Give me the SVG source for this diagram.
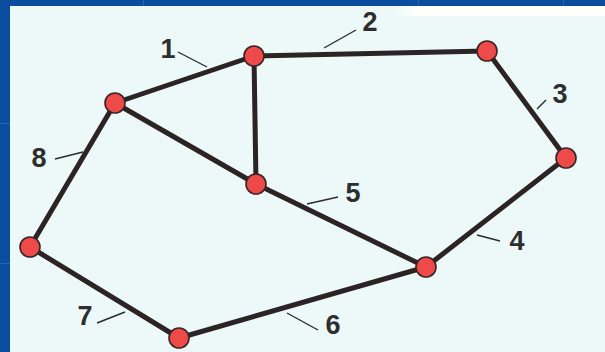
<svg xmlns="http://www.w3.org/2000/svg" width="605" height="352" viewBox="0 0 605 352">
<style>
.edge{stroke:#2b2324;stroke-width:5;stroke-linecap:round;fill:none}
.lead{stroke:#2b2b2b;stroke-width:1.4;fill:none}
.node{fill:#ee4a4a;stroke:#3a2526;stroke-width:1.6}
.lbl{font-family:"Liberation Sans",Arial,sans-serif;font-weight:bold;font-size:27px;fill:#2e2e2e;text-anchor:middle}
.tpl{stroke:#2a62ae;stroke-width:1}
</style>
<defs>
<linearGradient id="wg" x1="0" y1="0" x2="1" y2="0">
<stop offset="0" stop-color="#ffffff" stop-opacity="0"/>
<stop offset="0.1" stop-color="#ffffff" stop-opacity="1"/>
</linearGradient>
</defs>
<rect x="0" y="0" width="605" height="352" fill="#0a4d9f"/>
<line class="tpl" x1="0" y1="123.5" x2="10" y2="123.5"/>
<line class="tpl" x1="0" y1="263.5" x2="10" y2="263.5"/>
<line class="tpl" x1="143.5" y1="0" x2="143.5" y2="6"/>
<line class="tpl" x1="418.5" y1="0" x2="418.5" y2="6"/>
<line class="tpl" x1="563.5" y1="0" x2="563.5" y2="6"/>
<rect x="10" y="6" width="595" height="346" fill="#edf9f9"/>
<rect x="395" y="6" width="210" height="10" fill="url(#wg)"/>
<g id="connectors">
<line class="edge" x1="115" y1="103" x2="254" y2="56"/>
<line class="edge" x1="254" y1="56" x2="487" y2="51"/>
<line class="edge" x1="487" y1="51" x2="566" y2="158"/>
<line class="edge" x1="566" y1="158" x2="426" y2="267"/>
<line class="edge" x1="256" y1="184" x2="426" y2="267"/>
<line class="edge" x1="426" y1="267" x2="179" y2="338"/>
<line class="edge" x1="179" y1="338" x2="30" y2="247"/>
<line class="edge" x1="30" y1="247" x2="115" y2="103"/>
<line class="edge" x1="115" y1="103" x2="256" y2="184"/>
<line class="edge" x1="254" y1="56" x2="256" y2="184"/>
<line class="lead" x1="178" y1="52" x2="207" y2="67"/>
<line class="lead" x1="324" y1="48" x2="356" y2="30"/>
<line class="lead" x1="537" y1="109" x2="546" y2="100"/>
<line class="lead" x1="477" y1="235" x2="500" y2="241"/>
<line class="lead" x1="307" y1="204" x2="338" y2="197"/>
<line class="lead" x1="287" y1="313" x2="318" y2="330"/>
<line class="lead" x1="97" y1="323" x2="125" y2="312"/>
<line class="lead" x1="55" y1="159" x2="83" y2="152"/>
</g>
<g id="labels">
<text class="lbl" x="168" y="58">1</text>
<text class="lbl" x="370" y="31">2</text>
<text class="lbl" x="560" y="103">3</text>
<text class="lbl" x="517" y="250">4</text>
<text class="lbl" x="353" y="202">5</text>
<text class="lbl" x="333" y="334">6</text>
<text class="lbl" x="85" y="325">7</text>
<text class="lbl" x="39" y="167">8</text>
</g>
<g id="nA"><circle class="node" cx="115" cy="103" r="10"/></g>
<g id="nB"><circle class="node" cx="254" cy="56" r="10"/></g>
<g id="nC"><circle class="node" cx="487" cy="51" r="10"/></g>
<g id="nD"><circle class="node" cx="566" cy="158" r="10"/></g>
<g id="nE"><circle class="node" cx="256" cy="184" r="10"/></g>
<g id="nF"><circle class="node" cx="426" cy="267" r="10"/></g>
<g id="nG"><circle class="node" cx="179" cy="338" r="10"/></g>
<g id="nH"><circle class="node" cx="30" cy="247" r="10"/></g>
</svg>
